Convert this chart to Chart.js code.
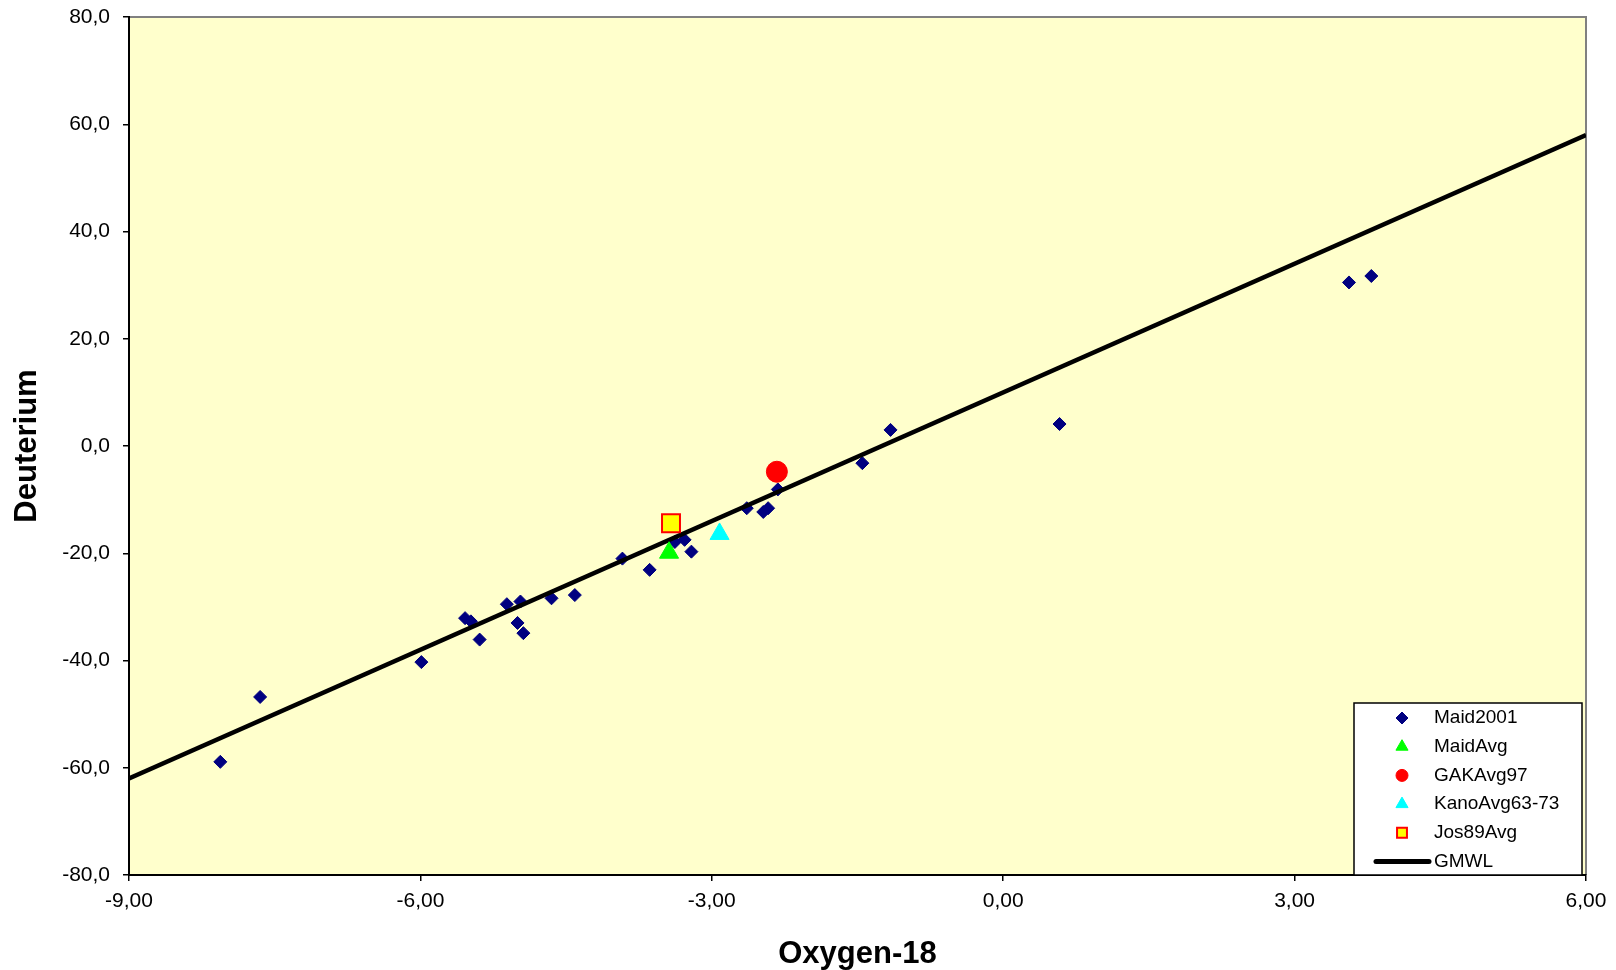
<!DOCTYPE html>
<html>
<head>
<meta charset="utf-8">
<title>Deuterium vs Oxygen-18</title>
<script src="https://cdn.jsdelivr.net/npm/chart.js@4.4.1/dist/chart.umd.min.js"></script>
<style>
    html, body { margin: 0; padding: 0; background: #fff; }
    #wrap { width: 1616px; height: 970px; }
</style>
</head>
<body>
<div id="wrap"><canvas id="isoChart" width="1616" height="970"></canvas></div>
<script>
// Maid2001 samples (Oxygen-18, Deuterium)
const maidO18 = [-8.06, -7.65, -5.99, -5.54, -5.48, -5.39, -5.11, -5.00, -4.97, -4.94, -4.65, -4.41, -3.92,
                 -3.64, -3.38, -3.28, -3.21, -2.64, -2.47, -2.42, -2.32, -1.45, -1.16, 0.58, 3.56, 3.79];
const maidD = [-58.9, -46.8, -40.3, -32.1, -32.7, -36.1, -29.5, -33.0, -29.0, -34.9, -28.4, -27.8, -21.0,
               -23.1, -17.9, -17.5, -19.7, -11.6, -12.3, -11.6, -8.1, -3.2, 3.0, 4.1, 30.5, 31.7];

// averages
const maidAvg = [-3.44, -19.9];
const gakAvg97 = [-2.33, -4.8];
const kanoAvg = [-2.92, -16.4];
const jos89Avg = [-3.42, -14.4];

// global meteoric water line end points
const gmwlO18 = [-9, 6];
const gmwlD = [-62, 58];

// axis ranges / ticks
const xRange = [-9, 6];
const xStep = 3;
const yRange = [-80, 80];
const yStep = 20;

const FONT = '"Liberation Sans", Arial, sans-serif';

const toPoints = (xs, ys) => xs.map((x, i) => ({ x: x, y: ys[i] }));
const onePoint = p => [{ x: p[0], y: p[1] }];

// plot area fill + grey frame on top/right
const plotBackground = {
    id: 'plotBackground',
    beforeDraw(chart) {
        const { ctx, chartArea: a } = chart;
        ctx.save();
        ctx.fillStyle = '#FFFFCC';
        ctx.fillRect(a.left, a.top, a.right - a.left, a.bottom - a.top);
        ctx.strokeStyle = '#808080';
        ctx.lineWidth = 2;
        ctx.beginPath();
        ctx.moveTo(a.left, a.top);
        ctx.lineTo(a.right, a.top);
        ctx.lineTo(a.right, a.bottom);
        ctx.stroke();
        ctx.restore();
    }
};

// legend sizes for the small markers in the box
const legendRadius = { rectRot: 6, triangle: 7, circle: 6, rect: 7 };

// boxed legend in the lower right corner of the plot
const boxLegend = {
    id: 'boxLegend',
    afterDraw(chart) {
        const { ctx, chartArea: a } = chart;
        const x1 = a.right - 232, y1 = a.bottom - 172, x2 = a.right - 4, y2 = a.bottom;
        ctx.save();
        ctx.fillStyle = '#fff';
        ctx.fillRect(x1, y1, x2 - x1, y2 - y1);
        ctx.strokeStyle = '#000';
        ctx.lineWidth = 1.5;
        ctx.strokeRect(x1, y1, x2 - x1, y2 - y1);
        ctx.font = '19px ' + FONT;
        ctx.textBaseline = 'middle';
        ctx.textAlign = 'left';
        chart.data.datasets.forEach((ds, i) => {
            const y = y1 + 15 + i * 28.7;
            const mx = x1 + 48;
            if (ds.showLine) {
                ctx.strokeStyle = ds.borderColor;
                ctx.lineWidth = 5;
                ctx.lineCap = 'round';
                ctx.beginPath();
                ctx.moveTo(x1 + 22, y);
                ctx.lineTo(x1 + 75, y);
                ctx.stroke();
            } else {
                ctx.fillStyle = ds.backgroundColor;
                ctx.strokeStyle = ds.borderColor;
                ctx.lineWidth = ds.borderWidth;
                Chart.helpers.drawPoint(ctx, {
                    pointStyle: ds.pointStyle,
                    radius: legendRadius[ds.pointStyle],
                    rotation: 0,
                    borderWidth: ds.borderWidth
                }, mx, y);
            }
            ctx.fillStyle = '#000';
            ctx.fillText(ds.label, x1 + 80, y);
        });
        ctx.restore();
    }
};

const ctx = document.getElementById('isoChart').getContext('2d');
new Chart(ctx, {
    type: 'scatter',
    data: {
        datasets: [
            {
                label: 'Maid2001',
                data: toPoints(maidO18, maidD),
                pointStyle: 'rectRot',
                pointRadius: 6.5,
                backgroundColor: '#000080',
                borderColor: '#000080',
                borderWidth: 1,
                order: 2
            },
            {
                label: 'MaidAvg',
                data: onePoint(maidAvg),
                pointStyle: 'triangle',
                pointRadius: 11,
                backgroundColor: '#00FF00',
                borderColor: '#00FF00',
                borderWidth: 1,
                order: 0
            },
            {
                label: 'GAKAvg97',
                data: onePoint(gakAvg97),
                pointStyle: 'circle',
                pointRadius: 10.5,
                backgroundColor: '#FF0000',
                borderColor: '#FF0000',
                borderWidth: 1,
                order: 0
            },
            {
                label: 'KanoAvg63-73',
                data: onePoint(kanoAvg),
                pointStyle: 'triangle',
                pointRadius: 11,
                backgroundColor: '#00FFFF',
                borderColor: '#00FFFF',
                borderWidth: 1,
                order: 0
            },
            {
                label: 'Jos89Avg',
                data: onePoint(jos89Avg),
                pointStyle: 'rect',
                pointRadius: 12.7,
                backgroundColor: '#FFFF00',
                borderColor: '#FF0000',
                borderWidth: 2,
                order: 0
            },
            {
                label: 'GMWL',
                data: toPoints(gmwlO18, gmwlD),
                showLine: true,
                borderColor: '#000000',
                backgroundColor: '#000000',
                borderWidth: 4.5,
                pointRadius: 0,
                order: 1
            }
        ]
    },
    options: {
        responsive: false,
        animation: false,
        layout: { padding: { top: 17, right: 30, left: 0, bottom: 0 } },
        plugins: {
            legend: { display: false },
            tooltip: { enabled: false }
        },
        scales: {
            x: {
                type: 'linear',
                min: xRange[0],
                max: xRange[1],
                ticks: {
                    stepSize: xStep,
                    color: '#000',
                    padding: 8,
                    font: { family: FONT, size: 21 },
                    callback: v => v.toFixed(2).replace('.', ',')
                },
                grid: { drawOnChartArea: false, drawTicks: true, tickLength: 6, color: '#000', lineWidth: 1.5 },
                border: { display: true, color: '#000', width: 2 },
                title: {
                    display: true,
                    text: 'Oxygen-18',
                    color: '#000',
                    padding: 0,
                    font: { family: FONT, size: 31, weight: 'bold', lineHeight: 1 }
                },
                afterFit: s => {
                    s.height = 95;
                    s.paddingLeft = 0;
                    s.paddingRight = 0;
                }
            },
            y: {
                type: 'linear',
                min: yRange[0],
                max: yRange[1],
                ticks: {
                    stepSize: yStep,
                    color: '#000',
                    padding: 13,
                    font: { family: FONT, size: 21 },
                    callback: v => v.toFixed(1).replace('.', ',')
                },
                grid: { drawOnChartArea: false, drawTicks: true, tickLength: 6, color: '#000', lineWidth: 1.5 },
                border: { display: true, color: '#000', width: 2 },
                title: {
                    display: true,
                    text: 'Deuterium',
                    color: '#000',
                    padding: { top: 12, bottom: 0 },
                    font: { family: FONT, size: 31, weight: 'bold', lineHeight: 1 }
                },
                afterFit: s => {
                    s.width = 129;
                    s.paddingTop = 0;
                    s.paddingBottom = 0;
                }
            }
        }
    },
    plugins: [plotBackground, boxLegend]
});
</script>
</body>
</html>
